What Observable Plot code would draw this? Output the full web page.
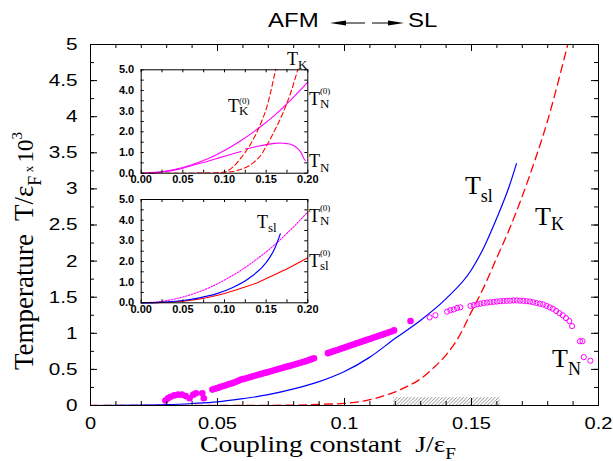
<!DOCTYPE html>
<html><head><meta charset="utf-8">
<script src="https://cdn.jsdelivr.net/npm/d3@7"></script>
<script src="https://cdn.jsdelivr.net/npm/@observablehq/plot@0.6"></script>
<style>
body{margin:0;background:#fff;}
#wrap{position:relative;width:613px;height:461px;overflow:hidden;}
#wrap svg{position:absolute;max-width:none;}
</style></head><body><div id="wrap"></div>
<script>
// ---------- data ----------
// main panel: T_sl (blue)
const TSL_J = [0, 0.02, 0.03, 0.04, 0.05, 0.06, 0.07, 0.08, 0.09, 0.10, 0.11, 0.12, 0.13, 0.14, 0.15, 0.155, 0.16, 0.165, 0.1677];
const TSL_T = [0, 0.005, 0.012, 0.028, 0.05, 0.095, 0.15, 0.23, 0.33, 0.47, 0.67, 0.93, 1.18, 1.48, 1.88, 2.2, 2.6, 3.05, 3.35];
// T_K (red dashed)
const TK_J = [0, 0.05, 0.08, 0.09, 0.10, 0.11, 0.115, 0.12, 0.125, 0.13, 0.135, 0.14, 0.145, 0.15, 0.155, 0.16, 0.165, 0.17, 0.175, 0.18, 0.185, 0.19];
const TK_T = [0, 0, 0.005, 0.015, 0.03, 0.08, 0.13, 0.19, 0.27, 0.37, 0.52, 0.70, 0.95, 1.3, 1.65, 2.05, 2.45, 2.9, 3.4, 3.95, 4.6, 5.3];
// T_N filled dots
const TN_FILLED_J = [0.0295, 0.0305, 0.0315, 0.033, 0.0345, 0.036, 0.0375, 0.039, 0.0405, 0.0415, 0.044, 0.0446,
  0.048, 0.049, 0.050, 0.051, 0.052, 0.053, 0.054, 0.055, 0.056, 0.057, 0.058, 0.059, 0.060, 0.061, 0.062, 0.063,
  0.064, 0.065, 0.066, 0.067, 0.068, 0.069, 0.070, 0.071, 0.072, 0.073, 0.074, 0.075, 0.076, 0.077, 0.078, 0.079,
  0.080, 0.081, 0.082, 0.083, 0.084, 0.085, 0.086, 0.087, 0.088,
  0.0935, 0.0945, 0.0955, 0.0965, 0.0975, 0.0985, 0.0995, 0.1005, 0.1015, 0.1025, 0.1035, 0.1045, 0.1055, 0.1065,
  0.1075, 0.1085, 0.1095, 0.1105, 0.1115, 0.1125, 0.1135, 0.1145, 0.1155, 0.1165, 0.1175, 0.1185, 0.1195,
  0.126];
const TN_FILLED_T = [0.07, 0.10, 0.12, 0.14, 0.15, 0.15, 0.13, 0.10, 0.15, 0.17, 0.17, 0.10,
  0.22, 0.232, 0.243, 0.255, 0.267, 0.278, 0.29, 0.30, 0.31, 0.325, 0.34, 0.355, 0.365, 0.375, 0.385, 0.395,
  0.405, 0.415, 0.425, 0.435, 0.445, 0.455, 0.465, 0.475, 0.485, 0.495, 0.505, 0.515, 0.525, 0.535, 0.545, 0.555,
  0.565, 0.575, 0.585, 0.595, 0.605, 0.617, 0.63, 0.642, 0.655,
  0.725, 0.737, 0.749, 0.761, 0.773, 0.785, 0.797, 0.809, 0.821, 0.833, 0.845, 0.857, 0.869, 0.881,
  0.893, 0.905, 0.917, 0.929, 0.941, 0.953, 0.965, 0.977, 0.989, 1.001, 1.013, 1.025, 1.04,
  1.17];
// T_N open circles
const TN_OPEN_J = [0.1335, 0.1358, 0.1404, 0.1417, 0.1430, 0.1443, 0.1456, 0.1496, 0.1509, 0.1522, 0.1535, 0.1548,
  0.1561, 0.1574, 0.1587, 0.1600, 0.1613, 0.1626, 0.1639, 0.1652, 0.1665, 0.1678, 0.1691, 0.1704, 0.1717, 0.1730,
  0.1743, 0.1756, 0.1769, 0.1782, 0.1795, 0.1808, 0.1820, 0.1833, 0.1846, 0.1859, 0.1872, 0.1885, 0.1896,
  0.1927, 0.1937, 0.1942, 0.1968];
const TN_OPEN_T = [1.22, 1.25, 1.30, 1.32, 1.33, 1.35, 1.36, 1.38, 1.39, 1.40, 1.41, 1.42,
  1.425, 1.43, 1.435, 1.44, 1.445, 1.448, 1.45, 1.452, 1.455, 1.455, 1.452, 1.45, 1.445, 1.44,
  1.43, 1.42, 1.41, 1.40, 1.38, 1.36, 1.34, 1.31, 1.28, 1.25, 1.21, 1.17, 1.10,
  0.89, 0.89, 0.67, 0.62];
// hatched band
const HATCH = [{J1: 0.1193, J2: 0.1614, T1: 0, T2: 0.11}];

// insets
const TN0_J = [0, 0.02, 0.04, 0.06, 0.08, 0.10, 0.12, 0.14, 0.16, 0.18, 0.20];
const TN0_T = [0, 0.05, 0.18, 0.40, 0.70, 1.10, 1.58, 2.15, 2.80, 3.56, 4.40];
const TK0_J = [0, 0.05, 0.08, 0.09, 0.10, 0.105, 0.11, 0.115, 0.12, 0.125, 0.13, 0.135, 0.14, 0.145, 0.15, 0.155, 0.16, 0.165];
const TK0_T = [0, 0, 0.005, 0.02, 0.06, 0.15, 0.3, 0.5, 0.75, 1.02, 1.32, 1.68, 2.08, 2.55, 3.1, 3.85, 4.75, 5.6];
const TNI_A_J = [0.01, 0.02, 0.03, 0.04, 0.05, 0.06, 0.07, 0.08, 0.09, 0.10, 0.11, 0.12];
const TNI_A_T = [0, 0.03, 0.08, 0.15, 0.24, 0.36, 0.47, 0.58, 0.70, 0.82, 0.94, 1.05];
const TNI_B_J = [0.125, 0.13, 0.14, 0.15, 0.16, 0.167, 0.175, 0.18, 0.185, 0.19, 0.193, 0.195, 0.197];
const TNI_B_T = [1.17, 1.21, 1.30, 1.38, 1.44, 1.46, 1.43, 1.39, 1.29, 1.10, 0.92, 0.72, 0.62];
const TSLI_J = [0, 0.01, 0.03, 0.05, 0.07, 0.09, 0.11, 0.13, 0.15, 0.16, 0.167];
const TSLI_T = [0, 0, 0.04, 0.11, 0.24, 0.43, 0.74, 1.2, 1.95, 2.6, 3.34];
const TSL0_J = [0, 0.02, 0.04, 0.06, 0.08, 0.10, 0.12, 0.14, 0.16, 0.18, 0.20];
const TSL0_T = [0, 0.01, 0.05, 0.13, 0.26, 0.45, 0.70, 0.98, 1.36, 1.75, 2.18];

// ticks
const X_TICKS = [0, 0.05, 0.1, 0.15, 0.2];
const Y_TICKS = [0, 0.5, 1, 1.5, 2, 2.5, 3, 3.5, 4, 4.5, 5];
const X_MINOR = [0,0.01,0.02,0.03,0.04,0.05,0.06,0.07,0.08,0.09,0.1,0.11,0.12,0.13,0.14,0.15,0.16,0.17,0.18,0.19,0.2];
const Y_MINOR = [0,0.25,0.5,0.75,1,1.25,1.5,1.75,2,2.25,2.5,2.75,3,3.25,3.5,3.75,4,4.25,4.5,4.75,5];
const IX_TICKS = [0, 0.05, 0.10, 0.15, 0.20];
const IX_MINOR = [0,0.025,0.05,0.075,0.1,0.125,0.15,0.175,0.2];
const IY_TICKS = [0, 1, 2, 3, 4, 5];
const IY_MINOR = [0,0.5,1,1.5,2,2.5,3,3.5,4,4.5,5];

// labels (data coordinates)
const MAIN_LABELS = [
  {J: 0.1476, T: 2.92, sub: "sl", subDy: 8},
  {J: 0.1752, T: 2.49, sub: "K", subDy: 5},
  {J: 0.1819, T: 0.53, sub: "N", subDy: 8}
];
const INSET1_LABELS = [
  {J: 0.1756, T: 5.21, sub: "K", subDy: 4},
  {J: 0.1048, T: 2.94, sub: "K", subDy: 3, sup: "(0)", supDy: -8},
  {J: 0.2019, T: 3.27, sub: "N", subDy: 3, sup: "(0)", supDy: -11},
  {J: 0.2019, T: 0.27, sub: "N", subDy: 5}
];
const INSET2_LABELS = [
  {J: 0.1396, T: 3.59, sub: "sl", subDy: 4},
  {J: 0.2019, T: 3.89, sub: "N", subDy: 3, sup: "(0)", supDy: -11},
  {J: 0.2019, T: 1.71, sub: "sl", subDy: 3, sup: "(0)", supDy: -11}
];

// ---------- drawing ----------
const SANS = "Liberation Sans, Arial, Helvetica, sans-serif";
const SERIF = "Liberation Serif, Times New Roman, serif";
const RED = "#ff0000", BLUE = "#0000ff", MAG = "#ff00ff";
const mk = (J, T) => J.map((j, i) => ({J: j, T: T[i]}));
const wrap = document.getElementById("wrap");

const W = 613, H = 461, ML = 90, MR = 15, MT = 44, MB = 56;
const IW = W - ML - MR, IH = H - MT - MB;

const main = Plot.plot({
  width: W, height: H, marginLeft: ML, marginRight: MR, marginTop: MT, marginBottom: MB,
  x: {domain: [0, 0.2]}, y: {domain: [0, 5]},
  style: {fontFamily: SANS, fontSize: "17px", background: "white", overflow: "visible"},
  marks: [
    Plot.rect(HATCH, {x1: "J1", x2: "J2", y1: "T1", y2: "T2", fill: "url(#hatch)"}),
    Plot.line(mk(TK_J, TK_T), {x: "J", y: "T", stroke: RED, strokeWidth: 1.3, strokeDasharray: "8,5", curve: "monotone-x", clip: true}),
    Plot.line(mk(TSL_J, TSL_T), {x: "J", y: "T", stroke: BLUE, strokeWidth: 1.2, curve: "monotone-x"}),
    Plot.dot(mk(TN_FILLED_J, TN_FILLED_T), {x: "J", y: "T", r: 3.3, fill: MAG}),
    Plot.dot(mk(TN_OPEN_J, TN_OPEN_T), {x: "J", y: "T", r: 2.6, stroke: MAG, strokeWidth: 1, fill: "none"}),
    Plot.frame({stroke: "black"}),
    Plot.tickX(X_MINOR, {x: d => d, insetTop: IH - 4}),
    Plot.tickX(X_MINOR, {x: d => d, insetBottom: IH - 4}),
    Plot.tickX(X_TICKS, {x: d => d, insetTop: IH - 7}),
    Plot.tickX(X_TICKS, {x: d => d, insetBottom: IH - 7}),
    Plot.tickY(Y_MINOR, {y: d => d, insetRight: IW - 4}),
    Plot.tickY(Y_MINOR, {y: d => d, insetLeft: IW - 4}),
    Plot.tickY(Y_TICKS, {y: d => d, insetRight: IW - 7}),
    Plot.tickY(Y_TICKS, {y: d => d, insetLeft: IW - 7}),
    Plot.axisX({ticks: X_TICKS, tickSize: 0, tickPadding: 11, tickFormat: d => String(d), label: null, fontSize: 17}),
    Plot.axisY({ticks: Y_TICKS, tickSize: 0, tickPadding: 13, tickFormat: d => String(d), label: null, fontSize: 17})
  ]
});
main.style.left = "0px"; main.style.top = "0px";
wrap.appendChild(main);

function makeInset(left, top, w, h, ml, mr, mt, mb, lines) {
  const iw = w - ml - mr, ih = h - mt - mb;
  const p = Plot.plot({
    width: w, height: h, marginLeft: ml, marginRight: mr, marginTop: mt, marginBottom: mb,
    x: {domain: [0, 0.2]}, y: {domain: [0, 5]},
    style: {fontFamily: SANS, fontSize: "11px", background: "transparent", overflow: "visible"},
    marks: [
      Plot.frame({fill: "white", stroke: "none"}),
      ...lines,
      Plot.frame({stroke: "black"}),
      Plot.tickX(IX_MINOR, {x: d => d, insetTop: ih - 3}),
      Plot.tickX(IX_MINOR, {x: d => d, insetBottom: ih - 3}),
      Plot.tickY(IY_MINOR, {y: d => d, insetRight: iw - 3}),
      Plot.tickY(IY_MINOR, {y: d => d, insetLeft: iw - 3}),
      Plot.axisX({ticks: IX_TICKS, tickSize: 0, tickPadding: 2, tickFormat: d3.format(".2f"), label: null, fontSize: 11, fontWeight: "bold"}),
      Plot.axisY({ticks: IY_TICKS, tickSize: 0, tickPadding: 7, tickFormat: d3.format(".1f"), label: null, fontSize: 11, fontWeight: "bold"})
    ]
  });
  p.style.left = left + "px"; p.style.top = top + "px";
  wrap.appendChild(p);
  return p;
}

const inset1 = makeInset(100, 40, 240, 150, 40.7, 32.7, 29.3, 17.3, [
  Plot.line(mk(TN0_J, TN0_T), {x: "J", y: "T", stroke: MAG, strokeWidth: 1.1, curve: "monotone-x"}),
  Plot.line(mk(TNI_A_J, TNI_A_T), {x: "J", y: "T", stroke: MAG, strokeWidth: 1.1, curve: "monotone-x"}),
  Plot.line(mk(TNI_B_J, TNI_B_T), {x: "J", y: "T", stroke: MAG, strokeWidth: 1.1, curve: "monotone-x"}),
  Plot.line(mk(TK0_J, TK0_T), {x: "J", y: "T", stroke: RED, strokeWidth: 1.1, strokeDasharray: "5,3", curve: "monotone-x", clip: true}),
  Plot.line(mk(TK_J, TK_T), {x: "J", y: "T", stroke: RED, strokeWidth: 1.1, strokeDasharray: "5,3", curve: "monotone-x", clip: true})
]);
const inset2 = makeInset(100, 185, 240, 135, 40.7, 32.7, 14, 17.7, [
  Plot.line(mk(TN0_J, TN0_T), {x: "J", y: "T", stroke: MAG, strokeWidth: 1.1, strokeDasharray: "1.5,1.5", curve: "monotone-x"}),
  Plot.line(mk(TSL0_J, TSL0_T), {x: "J", y: "T", stroke: RED, strokeWidth: 1.1, curve: "monotone-x"}),
  Plot.line(mk(TSLI_J, TSLI_T), {x: "J", y: "T", stroke: BLUE, strokeWidth: 1.2, curve: "monotone-x"})
]);

// hatch pattern
const defs = d3.select(main).insert("defs", ":first-child");
defs.append("pattern").attr("id", "hatch").attr("patternUnits", "userSpaceOnUse")
  .attr("width", 3.5).attr("height", 3.5)
  .append("path").attr("d", "M-1,1 L1,-1 M0,3.5 L3.5,0 M2.5,4.5 L4.5,2.5")
  .attr("stroke", "#666").attr("stroke-width", 0.7);

// stretch tick labels horizontally (reference type is wide)
function stretch(svg, sel, sx, mode) {
  svg.querySelectorAll(sel).forEach(t => {
    const b = t.getBBox();
    const ax = mode === "end" ? b.x + b.width : b.x + b.width / 2;
    const tr = t.getAttribute("transform") || "";
    t.setAttribute("transform", `${tr} translate(${ax},0) scale(${sx},1) translate(${-ax},0)`);
  });
}
stretch(main, 'g[aria-label="x-axis tick label"] text', 1.18, "mid");
stretch(main, 'g[aria-label="y-axis tick label"] text', 1.22, "end");

// curve labels
function placeLabels(svg, labels, size, subSize, supSize) {
  const sx = svg.scale("x"), sy = svg.scale("y");
  const g = d3.select(svg).append("g").attr("font-family", SERIF).attr("fill", "black").attr("text-anchor", "start");
  labels.forEach(L => {
    const px = sx.apply(L.J), py = sy.apply(L.T);
    const t = g.append("text").attr("x", px).attr("y", py).attr("font-size", size).text("T");
    const w = t.node().getComputedTextLength();
    if (L.sub) g.append("text").attr("x", px + w).attr("y", py + L.subDy).attr("font-size", subSize).text(L.sub);
    if (L.sup) g.append("text").attr("x", px + w).attr("y", py + L.supDy).attr("font-size", supSize).text(L.sup);
  });
}
placeLabels(main, MAIN_LABELS, 26, 18, 12);
placeLabels(inset1, INSET1_LABELS, 18, 13, 9);
placeLabels(inset2, INSET2_LABELS, 18, 13, 9);

// axis titles and header
const M = d3.select(main);
const titles = M.append("g").attr("text-anchor", "start").attr("fill", "black");
const xl = titles.append("text").attr("font-family", SERIF).attr("font-size", 23)
  .attr("transform", "translate(200,452) scale(1.2,1)");
xl.append("tspan").text("Coupling constant  J/\u03B5");
xl.append("tspan").attr("font-size", 16).attr("dy", 7).text("F");

const yl = titles.append("text").attr("font-family", SERIF).attr("font-size", 27)
  .attr("transform", "translate(33,370) rotate(-90)");
yl.append("tspan").text("Temperature  T/\u03B5");
yl.append("tspan").attr("font-size", 18).attr("dy", 8).text("F");
yl.append("tspan").attr("font-size", 13).attr("dy", -8).text(" x ");
yl.append("tspan").attr("font-size", 23).text("10");
yl.append("tspan").attr("font-size", 15).attr("dy", -11).text("3");

const hdr = titles.append("g").attr("font-family", SANS).attr("font-size", 20);
hdr.append("text").attr("transform", "translate(268,27) scale(1.2,1)").text("AFM");
hdr.append("text").attr("transform", "translate(408,27) scale(1.2,1)").text("SL");
const ay = 23;
hdr.append("line").attr("x1", 344).attr("x2", 365).attr("y1", ay).attr("y2", ay).attr("stroke", "black").attr("stroke-width", 1);
hdr.append("path").attr("d", `M330,${ay} L346,${ay - 2.5} L346,${ay + 2.5} Z`).attr("fill", "black");
hdr.append("line").attr("x1", 372).attr("x2", 389).attr("y1", ay).attr("y2", ay).attr("stroke", "black").attr("stroke-width", 1);
hdr.append("path").attr("d", `M404,${ay} L388,${ay - 2.5} L388,${ay + 2.5} Z`).attr("fill", "black");
</script></body></html>
